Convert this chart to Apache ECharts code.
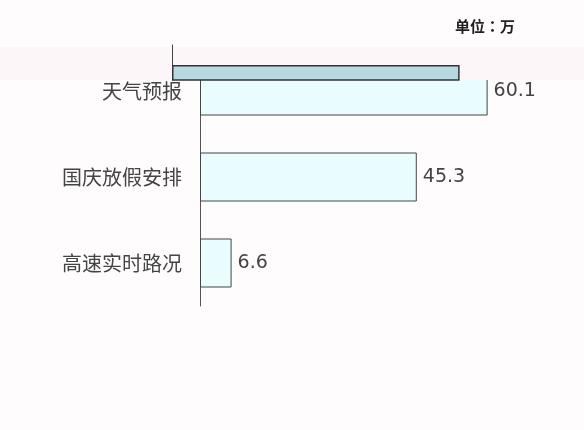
<!DOCTYPE html>
<html><head><meta charset="utf-8">
<script src="https://cdn.jsdelivr.net/npm/echarts@6/dist/echarts.min.js"></script>
<style>html,body{margin:0;padding:0;background:#fefcfc;}#c{width:584px;height:430px;}</style>
</head><body><div id="c"></div>
<script>
var categories = ['天气预报', '国庆放假安排', '高速实时路况'];
var values = [60.1, 45.3, 6.6];
var ghostCategories = ['天气预报'];
var ghostValues = [60.1];
var unitText = '单位：万';

var chart = echarts.init(document.getElementById('c'), null, {renderer: 'canvas'});
chart.setOption({
  animation: false,
  backgroundColor: '#fefcfc',
  title: {text: unitText, right: 64, top: 14, textStyle: {fontSize: 15, fontWeight: 'bold', color: '#222', fontFamily: 'Noto Sans CJK TC'}},
  graphic: [{type: 'rect', z: 10, shape: {x: 0, y: 47, width: 584, height: 33}, style: {fill: '#fcf6f8'}}],
  grid: [
    {left: 200, top: 48, width: 335, height: 258},
    {left: 172, top: 45, width: 335, height: 35}
  ],
  xAxis: [
    {gridIndex: 0, type: 'value', min: 0, max: 70, show: false},
    {gridIndex: 1, type: 'value', min: 0, max: 70, show: false}
  ],
  yAxis: [
    {gridIndex: 0, type: 'category', inverse: true, data: categories,
     axisLine: {show: true, lineStyle: {color: '#555', width: 1}}, axisTick: {show: false},
     axisLabel: {fontSize: 20, color: '#444', margin: 18, fontFamily: 'Noto Sans CJK SC'}},
    {gridIndex: 1, type: 'category', inverse: true, data: ghostCategories, z: 20,
     axisLine: {show: true, lineStyle: {color: '#444', width: 1}}, axisTick: {show: false},
     axisLabel: {show: false}}
  ],
  series: [
    {type: 'bar', xAxisIndex: 0, yAxisIndex: 0, data: values, barWidth: 49,
     itemStyle: {color: '#e9fdfe', borderColor: '#444', borderWidth: 1},
     label: {show: true, position: 'right', fontSize: 19, color: '#444', distance: 6, fontFamily: 'DejaVu Sans'}},
    {type: 'bar', xAxisIndex: 1, yAxisIndex: 1, data: [null], barWidth: 49, barGap: '10%', z: 20},
    {type: 'bar', xAxisIndex: 1, yAxisIndex: 1, data: ghostValues, barWidth: 49, barGap: '10%', z: 20,
     itemStyle: {color: '#b9d9e0', borderColor: '#333', borderWidth: 1.5}}
  ]
});
</script></body></html>
